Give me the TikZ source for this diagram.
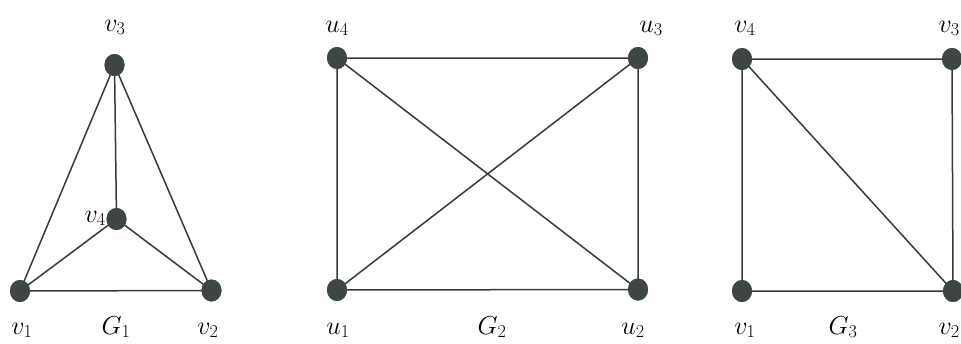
\documentclass[tikz,border=0pt]{standalone}
\usepackage{fix-cm}
\usetikzlibrary{shapes.geometric}
\definecolor{vfill}{RGB}{62,70,66}
\definecolor{edgecol}{RGB}{55,58,56}
\tikzset{
  vert/.style={ellipse, fill=vfill, draw=none, minimum width=20pt, minimum height=22pt, inner sep=0pt},
  edge/.style={draw=edgecol, line width=1.5pt},
  lbl/.style={anchor=base, inner sep=0pt, font=\fontsize{26}{30}\selectfont},
  lblr/.style={lbl, anchor=base east}
}
\begin{document}
\begin{tikzpicture}[x=1pt,y=-1pt]
\useasboundingbox (0,0) rectangle (961,343);
% G1
\node[vert] (a3) at (114.5,65) {};
\node[vert] (a4) at (116.5,219) {};
\node[vert] (a1) at (20,291) {};
\node[vert] (a2) at (211.5,290.5) {};
\draw[edge] (a3.center) -- (a1.center) -- (a2.center) -- (a3.center) -- (a4.center);
\draw[edge] (a1.center) -- (a4.center) -- (a2.center);
\node[vert] at (a3) {};
\node[vert] at (a4) {};
\node[vert] at (a1) {};
\node[vert] at (a2) {};
\node[lbl] (la3) at (115,31) {$v_3$};
\node[lbl, anchor=base east] (la4) at (106,222) {$v_4$};
\node[lbl] (la1) at (22,334) {$v_1$};
\node[lbl] (lg1) at (116,334) {$G_1$};
\node[lbl] (la2) at (208,334) {$v_2$};
% G2
\node[vert] (b4) at (337,58) {};
\node[vert] (b3) at (638,58) {};
\node[vert] (b1) at (337,290) {};
\node[vert] (b2) at (638,289.5) {};
\draw[edge] (b4.center) -- (b3.center) -- (b2.center) -- (b1.center) -- (b4.center) -- (b2.center);
\draw[edge] (b1.center) -- (b3.center);
\node[vert] at (b4) {};
\node[vert] at (b3) {};
\node[vert] at (b1) {};
\node[vert] at (b2) {};
\node[lbl] (lb4) at (337,32) {$u_4$};
\node[lbl] (lb3) at (651,32) {$u_3$};
\node[lbl] (lb1) at (338,334) {$u_1$};
\node[lbl] (lg2) at (492,334) {$G_2$};
\node[lbl] (lb2) at (633,334) {$u_2$};
% G3
\node[vert] (c4) at (742,59) {};
\node[vert] (c3) at (952,59) {};
\node[vert] (c1) at (742,291) {};
\node[vert] (c2) at (953,291) {};
\draw[edge] (c4.center) -- (c3.center) -- (c2.center) -- (c1.center) -- (c4.center) -- (c2.center);
\node[vert] at (c4) {};
\node[vert] at (c3) {};
\node[vert] at (c1) {};
\node[vert] at (c2) {};
\node[lbl] (lc4) at (745,32) {$v_4$};
\node[lblr] (lc3) at (960,32) {$v_3$};
\node[lbl] (lc1) at (745,334) {$v_1$};
\node[lbl] (lg3) at (843,334) {$G_3$};
\node[lblr] (lc2) at (960,334) {$v_2$};
\end{tikzpicture}
\end{document}
